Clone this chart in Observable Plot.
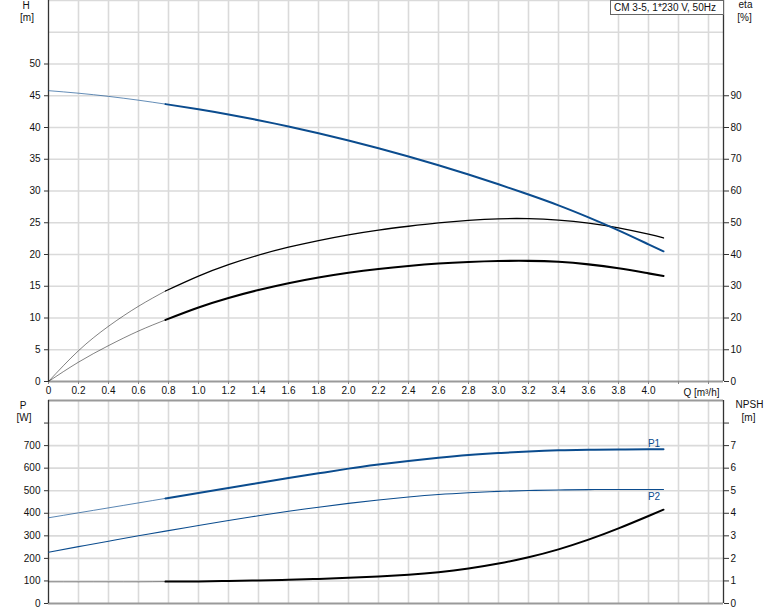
<!DOCTYPE html>
<html><head><meta charset="utf-8">
<script src="https://cdn.jsdelivr.net/npm/d3@7"></script>
<script src="https://cdn.jsdelivr.net/npm/@observablehq/plot@0.6"></script>
<style>
body{margin:0;background:#fff;}
#chart{position:relative;width:774px;height:611px;overflow:hidden;font-family:"Liberation Sans",Arial,sans-serif;}
#top,#bottom{position:absolute;left:0;}
#top{top:0}
#bottom{top:399px}
#legend{position:absolute;left:610px;top:0;width:109px;height:13px;border:1px solid #666;background:#fff;font-size:10px;line-height:13px;padding-left:3px;color:#111;white-space:nowrap}
</style></head><body>
<div id="chart"><div id="top"></div><div id="bottom"></div><div id="legend"></div></div>
<script>
// ---- data ----
const q     = [0, 0.2, 0.4, 0.6, 0.78, 1.0, 1.2, 1.4, 1.6, 1.8, 2.0, 2.2, 2.4, 2.6, 2.8, 3.0, 3.2, 3.4, 3.6, 3.8, 4.0, 4.1];
const head  = [45.8, 45.4, 44.9, 44.3, 43.68, 42.86, 42.04, 41.14, 40.16, 39.1, 37.96, 36.74, 35.44, 34.06, 32.6, 31.06, 29.44, 27.74, 25.85, 23.8, 21.6, 20.5];
const eta1  = [0, 9.7, 17.4, 23.7, 28.5, 33.2, 36.8, 39.8, 42.3, 44.4, 46.2, 47.7, 48.9, 49.95, 50.75, 51.25, 51.3, 50.85, 49.9, 48.4, 46.4, 45.2];
const eta2  = [0, 6.1, 11.3, 15.9, 19.4, 23.3, 26.3, 28.8, 30.95, 32.75, 34.25, 35.45, 36.4, 37.15, 37.65, 37.95, 38.0, 37.7, 36.9, 35.65, 34.05, 33.25];
const p1    = [380, 402, 424, 446, 466, 490, 512, 534, 556, 577, 598, 616, 632, 646, 658, 667, 674, 679, 681.5, 683, 683.5, 683.5];
const p2    = [227, 252, 276, 300, 321, 346, 368, 389, 409, 427, 444, 459, 472, 483, 491, 497, 501, 503.5, 505, 505.5, 505.5, 505.5];
const npsh  = [0.96, 0.96, 0.96, 0.96, 0.97, 0.98, 1.0, 1.02, 1.05, 1.09, 1.14, 1.2, 1.28, 1.39, 1.55, 1.77, 2.05, 2.4, 2.83, 3.33, 3.88, 4.16];
const dutyStart = 0.78;

const qTicks    = [0, 0.2, 0.4, 0.6, 0.8, 1.0, 1.2, 1.4, 1.6, 1.8, 2.0, 2.2, 2.4, 2.6, 2.8, 3.0, 3.2, 3.4, 3.6, 3.8, 4.0, 4.2, 4.4];
const qLabelMax = 4.0;
const hTicks    = [0, 5, 10, 15, 20, 25, 30, 35, 40, 45, 50];
const hGrid     = [5, 10, 15, 20, 25, 30, 35, 40, 45, 50, 55, 60];
const etaTicks  = [0, 10, 20, 30, 40, 50, 60, 70, 80, 90];
const pTicks    = [0, 100, 200, 300, 400, 500, 600, 700, 800];
const pGrid     = [100, 200, 300, 400, 500, 600, 700, 800];
const pLabelMax = 700;
const npshTicks = [0, 1, 2, 3, 4, 5, 6, 7, 8];

const legendText = "CM 3-5, 1*230 V, 50Hz";
const qUnit = "Q [m³/h]";
const hTitle = ["H", "[m]"];
const etaTitle = ["eta", "[%]"];
const pTitle = ["P", "[W]"];
const npshTitle = ["NPSH", "[m]"];
const curveLabels = ["P1", "P2"];

// ---- build rows ----
const rows = q.map((x, i) => ({q: x, h: head[i], e1: eta1[i] / 2, e2: eta2[i] / 2, p1: p1[i], p2: p2[i], n: npsh[i] * 100}));
const thin = rows.filter(d => d.q <= dutyStart);
const thick = rows.filter(d => d.q >= dutyStart);
const last = rows[rows.length - 1];

const BLUE = "#0b4c8e";
const GRID = "#dadada";
const font = {fontFamily: "'Liberation Sans', Arial, sans-serif", fontSize: "10px", color: "#111", background: "transparent", overflow: "visible"};
const curve = "natural";

const title = (txt, anchor, dx, dy) => Plot.text([txt], {frameAnchor: anchor, dx, dy, text: d => d, fill: "#111", fontSize: 10, textAnchor: "middle", lineAnchor: "middle"});

const topPlot = Plot.plot({
  width: 774, height: 399,
  marginLeft: 48, marginRight: 51, marginTop: 0, marginBottom: 18,
  x: {domain: [0, 4.5], axis: null},
  y: {domain: [0, 60], axis: null},
  style: font,
  marks: [
    Plot.gridX({ticks: qTicks.filter(t => t > 0), stroke: GRID, strokeOpacity: 1, strokeWidth: 1.6}),
    Plot.gridY({ticks: hGrid, stroke: GRID, strokeOpacity: 1, strokeWidth: 1.6}),
    Plot.ruleY([0], {stroke: "#9a9a9a", strokeWidth: 2}),
    Plot.ruleX([0], {stroke: "#333", strokeWidth: 1.3}),
    Plot.ruleX([4.5], {stroke: "#333", strokeWidth: 1.3}),
    Plot.axisY({anchor: "left", ticks: hTicks, tickSize: 4, tickPadding: 4, label: null, stroke: "#333"}),
    Plot.axisY({anchor: "right", ticks: etaTicks.map(e => e / 2), tickSize: 5, tickPadding: 2, tickFormat: d => String(Math.round(d * 2)), label: null, stroke: "#333"}),
    Plot.axisX({anchor: "bottom", ticks: qTicks, tickSize: 3, tickPadding: 2, label: null, stroke: "#888",
      tickFormat: d => d > qLabelMax + 0.01 ? "" : (d === 0 ? "0" : d.toFixed(1))}),
    Plot.text([qUnit], {frameAnchor: "bottom-right", dx: -4, dy: 11, textAnchor: "end", lineAnchor: "middle", text: d => d, fill: "#111", fontSize: 10}),
    title(hTitle[0], "top-left", -22.5, 5),
    title(hTitle[1], "top-left", -21.5, 17.5),
    title(etaTitle[0], "top-right", 22, 4.5),
    title(etaTitle[1], "top-right", 21, 17.5),
    // thin (outside duty range)
    Plot.line(thin, {x: "q", y: "h", stroke: BLUE, strokeWidth: 0.8, strokeOpacity: 0.8, curve}),
    Plot.line(thin, {x: "q", y: "e1", stroke: "#000", strokeWidth: 0.7, strokeOpacity: 0.7, curve}),
    Plot.line(thin, {x: "q", y: "e2", stroke: "#000", strokeWidth: 0.7, strokeOpacity: 0.7, curve}),
    // duty range
    Plot.line(thick, {x: "q", y: "e1", stroke: "#000", strokeWidth: 1.3, curve}),
    Plot.line(thick, {x: "q", y: "e2", stroke: "#000", strokeWidth: 2.1, curve}),
    Plot.line(thick, {x: "q", y: "h", stroke: BLUE, strokeWidth: 2, curve})
  ]
});
document.getElementById("top").appendChild(topPlot);

const bottomPlot = Plot.plot({
  width: 774, height: 212,
  marginLeft: 48, marginRight: 51, marginTop: 1, marginBottom: 8,
  x: {domain: [0, 4.5], axis: null},
  y: {domain: [0, 900], axis: null},
  style: font,
  marks: [
    Plot.gridX({ticks: qTicks.filter(t => t > 0), stroke: GRID, strokeOpacity: 1, strokeWidth: 1.6}),
    Plot.gridY({ticks: pGrid, stroke: GRID, strokeOpacity: 1, strokeWidth: 1.6}),
    Plot.ruleY([0], {stroke: "#9a9a9a", strokeWidth: 2}),
    Plot.ruleY([900], {stroke: "#9a9a9a", strokeWidth: 2}),
    Plot.ruleX([0], {stroke: "#333", strokeWidth: 1.3}),
    Plot.ruleX([4.5], {stroke: "#333", strokeWidth: 1.3}),
    Plot.axisY({anchor: "left", ticks: pTicks, tickSize: 4, tickPadding: 4, label: null, stroke: "#333",
      tickFormat: d => d > pLabelMax ? "" : String(d)}),
    Plot.axisY({anchor: "right", ticks: npshTicks.map(n => n * 100), tickSize: 5, tickPadding: 2, label: null, stroke: "#333",
      tickFormat: d => d > pLabelMax ? "" : String(Math.round(d / 100))}),
    title(pTitle[0], "top-left", -25.5, 5),
    title(pTitle[1], "top-left", -24.5, 17),
    title(npshTitle[0], "top-right", 26, 4.5),
    title(npshTitle[1], "top-right", 25, 17),
    Plot.line(thin, {x: "q", y: "p1", stroke: BLUE, strokeWidth: 0.8, strokeOpacity: 0.85, curve}),
    Plot.line(thin, {x: "q", y: "n", stroke: "#000", strokeWidth: 0.8, strokeOpacity: 0.6, curve}),
    Plot.line(rows, {x: "q", y: "p2", stroke: BLUE, strokeWidth: 1.1, curve}),
    Plot.line(thick, {x: "q", y: "p1", stroke: BLUE, strokeWidth: 2, curve}),
    Plot.line(thick, {x: "q", y: "n", stroke: "#000", strokeWidth: 2, curve}),
    Plot.text([last], {x: "q", y: "p1", text: () => curveLabels[0], dx: -9.5, dy: -6, fill: BLUE, fontSize: 10}),
    Plot.text([last], {x: "q", y: "p2", text: () => curveLabels[1], dx: -9.5, dy: 7, fill: BLUE, fontSize: 10})
  ]
});
document.getElementById("bottom").appendChild(bottomPlot);

document.getElementById("legend").textContent = legendText;
</script>
</body></html>
